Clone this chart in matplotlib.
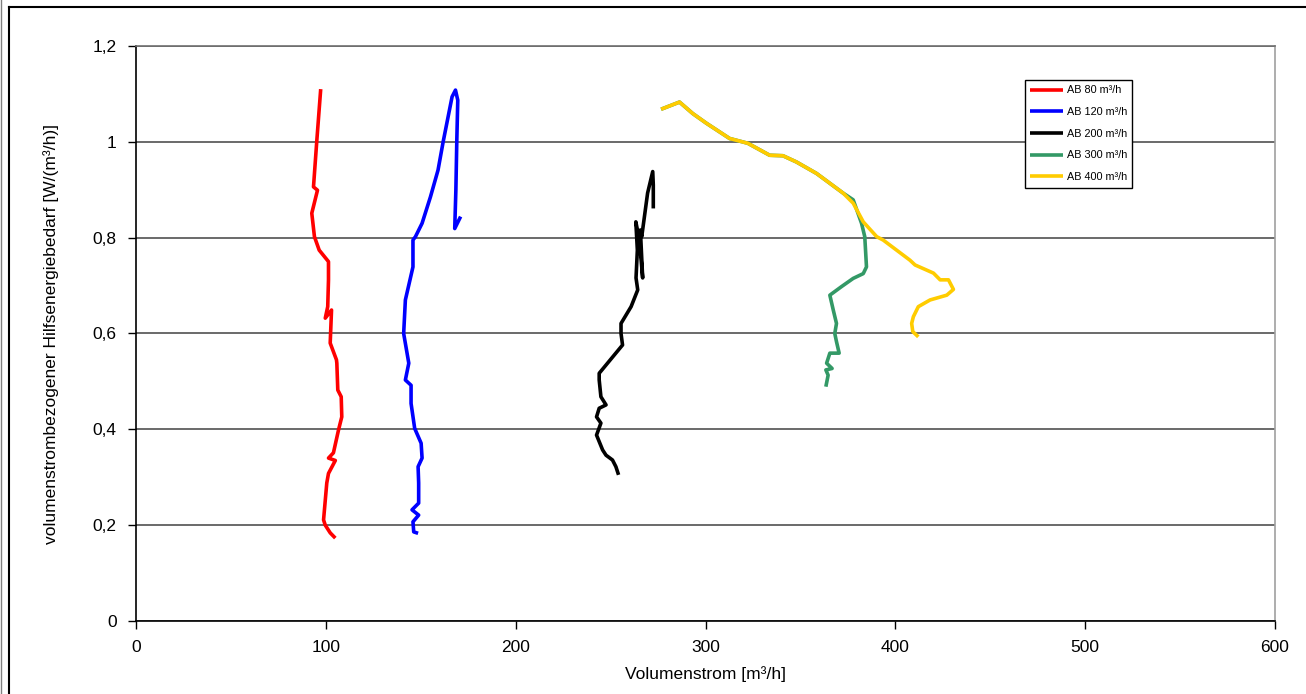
import matplotlib.pyplot as plt
from matplotlib.lines import Line2D
from matplotlib.ticker import FuncFormatter, MultipleLocator

plt.rcParams["font.family"] = ["Liberation Sans", "DejaVu Sans"]

# AB 80 m3/h
x_80 = [97.3, 95.2, 93.5, 95.6, 92.6, 94.0, 96.5, 101.4, 101.4, 101.0, 99.7, 103.0,
        102.3, 105.6, 105.8, 106.3, 108.1, 108.4, 106.7, 104.0, 101.4, 105.0, 101.4,
        100.5, 98.8, 99.7, 102.3, 105.0]
y_80 = [1.110, 1.000, 0.906, 0.899, 0.851, 0.802, 0.774, 0.750, 0.712, 0.656, 0.632, 0.649,
        0.580, 0.545, 0.538, 0.482, 0.468, 0.426, 0.399, 0.351, 0.340, 0.335, 0.308,
        0.288, 0.211, 0.200, 0.184, 0.173]

# AB 120 m3/h
x_120 = [148.6, 146.3, 145.9, 148.9, 145.4, 148.9, 148.9, 148.6, 150.7, 150.2, 146.8,
         144.9, 144.9, 141.9, 143.7, 141.0, 141.9, 145.9, 145.9, 147.2, 150.7, 155.1,
         159.1, 161.8, 166.5, 168.3, 169.5, 169.0, 168.5, 167.9, 171.0]
y_120 = [0.183, 0.186, 0.207, 0.221, 0.232, 0.246, 0.288, 0.322, 0.340, 0.371, 0.402,
         0.454, 0.492, 0.503, 0.538, 0.600, 0.670, 0.739, 0.795, 0.802, 0.830, 0.885,
         0.941, 1.000, 1.094, 1.108, 1.087, 1.004, 0.899, 0.819, 0.844]

# AB 200 m3/h
x_200 = [254.2, 252.8, 251.0, 247.6, 245.8, 242.6, 244.9, 242.6, 244.0, 247.6, 244.9,
         244.0, 244.0, 256.3, 255.5, 255.5, 260.8, 264.3, 263.4, 264.1, 263.3, 265.2,
         266.9, 265.7, 266.4, 269.5, 272.2, 272.5, 272.5]
y_200 = [0.305, 0.322, 0.336, 0.346, 0.357, 0.388, 0.413, 0.426, 0.444, 0.451, 0.468,
         0.503, 0.517, 0.576, 0.600, 0.621, 0.656, 0.691, 0.716, 0.774, 0.833, 0.795,
         0.716, 0.816, 0.802, 0.893, 0.938, 0.910, 0.861]

# AB 300 m3/h
x_300 = [276.6, 286.3, 293.3, 300.4, 312.7, 322.3, 333.8, 340.8, 347.9, 358.5, 372.5,
         377.8, 382.2, 383.9, 384.8, 383.1, 377.8, 371.7, 365.5, 367.3, 369.0, 368.1,
         369.0, 370.4, 365.5, 363.8, 366.7, 363.4, 364.6, 363.4]
y_300 = [1.068, 1.083, 1.059, 1.039, 1.007, 0.997, 0.972, 0.971, 0.958, 0.934, 0.893,
         0.879, 0.830, 0.802, 0.739, 0.725, 0.715, 0.698, 0.680, 0.649, 0.621, 0.600,
         0.583, 0.559, 0.559, 0.538, 0.527, 0.524, 0.513, 0.489]

# AB 400 m3/h
x_400 = [276.6, 286.3, 293.3, 300.4, 312.7, 322.3, 333.8, 340.8, 347.9, 358.5, 372.5,
         377.8, 383.1, 390.2, 393.6, 407.7, 410.4, 420.1, 423.6, 428.0, 430.6, 427.1,
         418.3, 412.1, 409.5, 408.6, 409.2, 412.1]
y_400 = [1.068, 1.083, 1.059, 1.039, 1.007, 0.997, 0.972, 0.971, 0.958, 0.934, 0.893,
         0.872, 0.833, 0.802, 0.795, 0.753, 0.743, 0.726, 0.712, 0.712, 0.692, 0.680,
         0.670, 0.656, 0.635, 0.621, 0.604, 0.593]

series = [
    ("AB 80 m³/h", x_80, y_80, "#FF0000"),
    ("AB 120 m³/h", x_120, y_120, "#0000FF"),
    ("AB 200 m³/h", x_200, y_200, "#000000"),
    ("AB 300 m³/h", x_300, y_300, "#339966"),
    ("AB 400 m³/h", x_400, y_400, "#FFCC00"),
]

fig = plt.figure(figsize=(13.06, 6.94), dpi=100)
ax = fig.add_axes([136 / 1306, 73 / 694, 1139 / 1306, 575 / 694])

for label, xs, ys, color in series:
    ax.plot(xs, ys, color=color, lw=2.6, label=label, solid_joinstyle="round",
            solid_capstyle="butt")

ax.set_xlim(0, 600)
ax.set_ylim(0, 1.2)
ax.xaxis.set_major_locator(MultipleLocator(100))
ax.yaxis.set_major_locator(MultipleLocator(0.2))
ax.yaxis.set_major_formatter(FuncFormatter(lambda v, p: f"{v:g}".replace(".", ",")))
ax.grid(axis="y", color="#505050", lw=1.2)
ax.set_axisbelow(True)
ax.tick_params(direction="out", length=6, width=1, labelsize=12.5, pad=8)
ax.spines["left"].set_color("black")
ax.spines["bottom"].set_color("black")
ax.spines["top"].set_color("#707070")
ax.spines["right"].set_color("#a0a0a0")
for s in ax.spines.values():
    s.set_linewidth(1.2)

ax.set_xlabel("Volumenstrom [m³/h]", fontsize=12.5, labelpad=8)
ax.set_ylabel("volumenstrombezogener Hilfsenergiebedarf [W/(m³/h)]", fontsize=12.5,
              labelpad=24)

leg = ax.legend(loc="upper left", bbox_to_anchor=(0.7805, 0.941), borderaxespad=0,
                fontsize=7.8, frameon=True, fancybox=False, framealpha=1,
                edgecolor="black", handlelength=3.0, borderpad=0.5,
                labelspacing=1.08, handletextpad=0.35)
leg.get_frame().set_linewidth(1.0)

# outer chart frame
fig.add_artist(Line2D([9 / 1306, 9 / 1306], [0, 1 - 7 / 694], color="black", lw=1.5))
fig.add_artist(Line2D([9 / 1306, 1], [1 - 7 / 694, 1 - 7 / 694], color="black", lw=1.5))
fig.add_artist(Line2D([1 / 1306, 1 / 1306], [0, 1], color="#808080", lw=1.0))

fig.savefig("out.png", dpi=100)
